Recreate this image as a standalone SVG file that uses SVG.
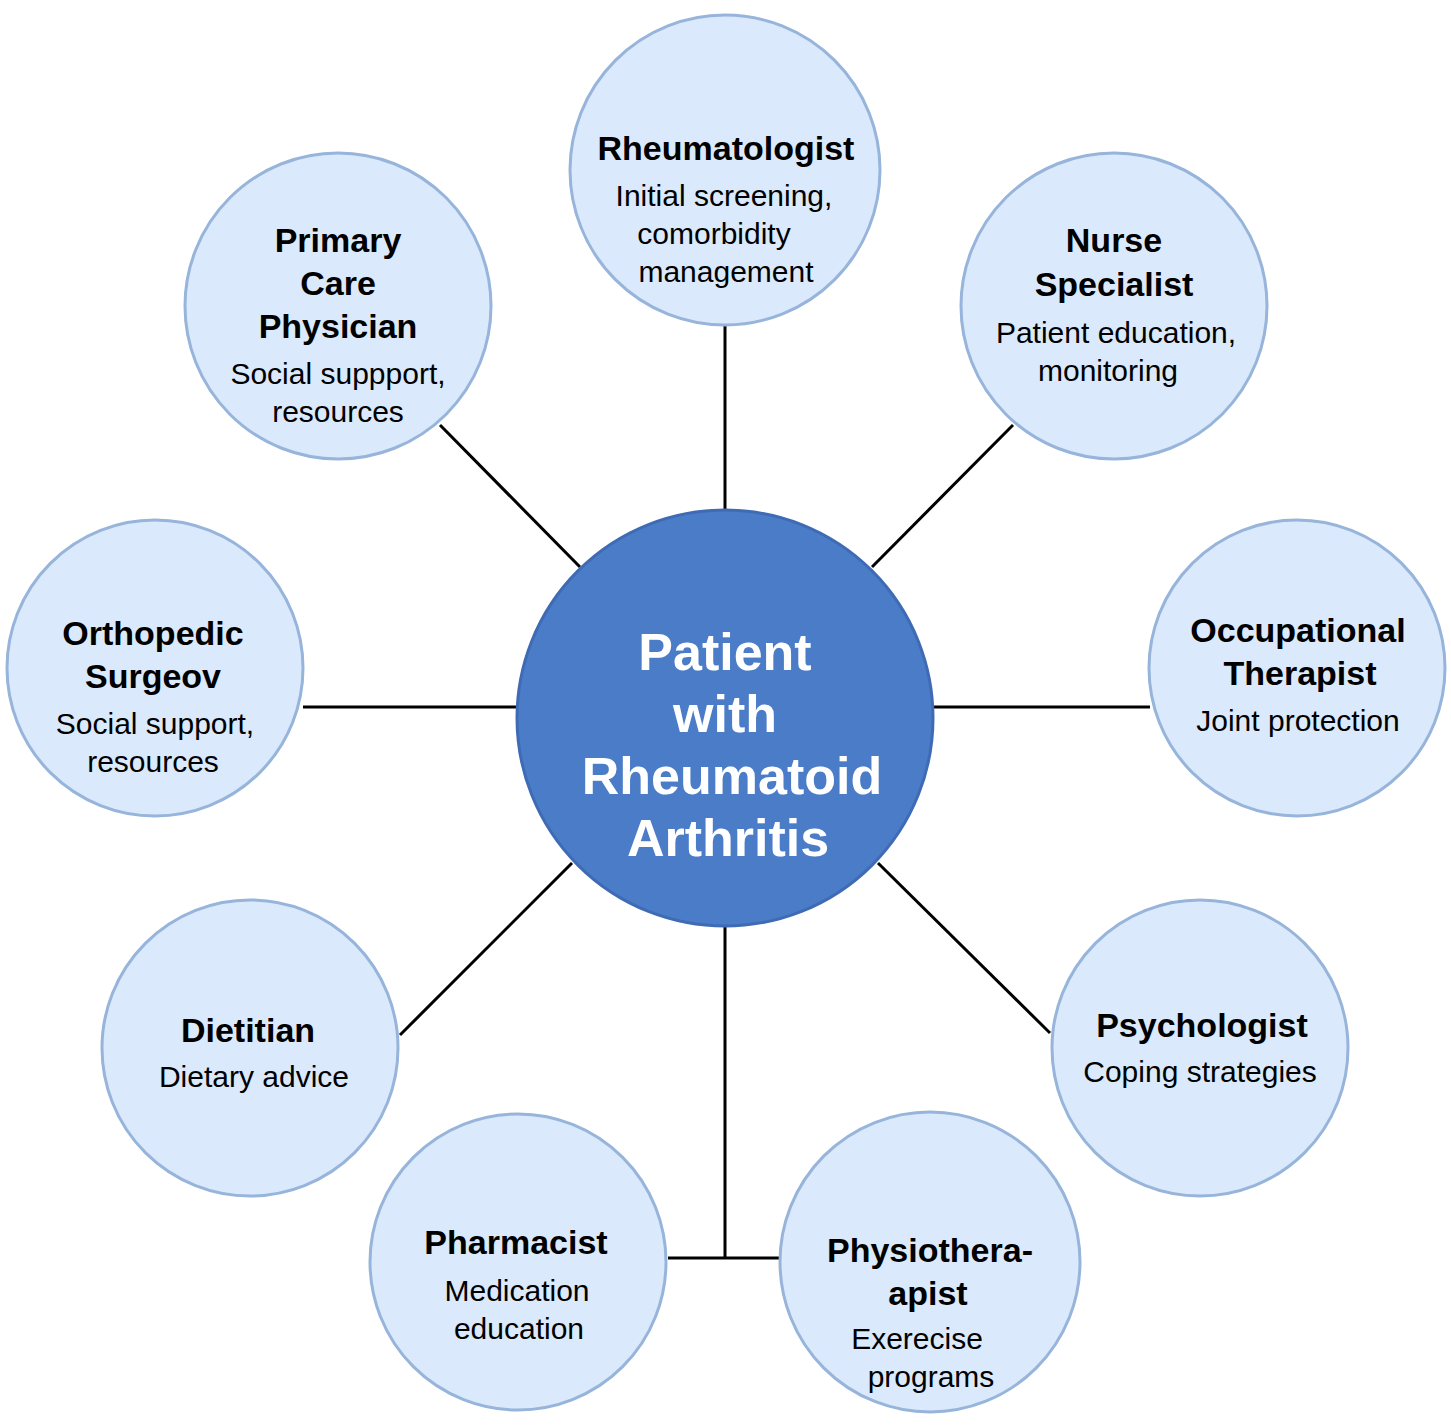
<svg xmlns="http://www.w3.org/2000/svg" width="1451" height="1426" viewBox="0 0 1451 1426">
<style>
.n{fill:#dae9fb;stroke:#97b4db;stroke-width:3}
.t{font-family:"Liberation Sans",Arial,sans-serif;font-size:34px;font-weight:bold;fill:#000;text-anchor:middle}
.s{font-family:"Liberation Sans",Arial,sans-serif;font-size:30px;fill:#000;text-anchor:middle}
.c{font-family:"Liberation Sans",Arial,sans-serif;font-size:52px;font-weight:bold;fill:#fff;text-anchor:middle}
.l{stroke:#000;stroke-width:3;fill:none}
</style>
<rect width="1451" height="1426" fill="#fff"/>
<g id="connectors">
<line class="l" x1="725" y1="325" x2="725" y2="512"/>
<line class="l" x1="440" y1="425" x2="580" y2="567"/>
<line class="l" x1="1013" y1="425" x2="872" y2="567"/>
<line class="l" x1="303" y1="707" x2="517" y2="707"/>
<line class="l" x1="933" y1="707" x2="1150" y2="707"/>
<line class="l" x1="400" y1="1035" x2="572" y2="863"/>
<line class="l" x1="1050" y1="1033" x2="878" y2="863"/>
<line class="l" x1="725" y1="926" x2="725" y2="1258"/>
<line class="l" x1="668" y1="1258" x2="782" y2="1258"/>
</g>
<g id="center"><circle cx="725" cy="718" r="208" fill="#4a7cc8" stroke="#3f6bb5" stroke-width="3"/>
<text class="c" x="725" y="670">Patient</text><text class="c" x="725" y="732">with</text><text class="c" x="732" y="794">Rheumatoid</text><text class="c" x="728" y="856">Arthritis</text></g>
<g id="rheum"><circle class="n" cx="725" cy="170" r="155"/>
<text class="t" x="726" y="160">Rheumatologist</text><text class="s" x="724" y="206">Initial screening,</text><text class="s" x="714" y="244">comorbidity</text><text class="s" x="726" y="282">management</text></g>
<g id="pcp"><circle class="n" cx="338" cy="306" r="153"/>
<text class="t" x="338" y="252">Primary</text><text class="t" x="338" y="295">Care</text><text class="t" x="338" y="338">Physician</text><text class="s" x="338" y="384">Social suppport,</text><text class="s" x="338" y="422">resources</text></g>
<g id="nurse"><circle class="n" cx="1114" cy="306" r="153"/>
<text class="t" x="1114" y="252">Nurse</text><text class="t" x="1114" y="296">Specialist</text><text class="s" x="1116" y="343">Patient education,</text><text class="s" x="1108" y="381">monitoring</text></g>
<g id="ortho"><circle class="n" cx="155" cy="668" r="148"/>
<text class="t" x="153" y="645">Orthopedic</text><text class="t" x="153" y="688">Surgeov</text><text class="s" x="155" y="734">Social support,</text><text class="s" x="153" y="772">resources</text></g>
<g id="occ"><circle class="n" cx="1297" cy="668" r="148"/>
<text class="t" x="1298" y="642">Occupational</text><text class="t" x="1300" y="685">Therapist</text><text class="s" x="1298" y="731">Joint protection</text></g>
<g id="diet"><circle class="n" cx="250" cy="1048" r="148"/>
<text class="t" x="248" y="1042">Dietitian</text><text class="s" x="254" y="1087">Dietary advice</text></g>
<g id="psych"><circle class="n" cx="1200" cy="1048" r="148"/>
<text class="t" x="1202" y="1037">Psychologist</text><text class="s" x="1200" y="1082">Coping strategies</text></g>
<g id="pharm"><circle class="n" cx="518" cy="1262" r="148"/>
<text class="t" x="516" y="1254">Pharmacist</text><text class="s" x="517" y="1301">Medication</text><text class="s" x="519" y="1339">education</text></g>
<g id="physio"><circle class="n" cx="930" cy="1262" r="150"/>
<text class="t" x="930" y="1262">Physiothera-</text><text class="t" x="928" y="1305">apist</text><text class="s" x="917" y="1349">Exerecise</text><text class="s" x="931" y="1387">programs</text></g>
</svg>
